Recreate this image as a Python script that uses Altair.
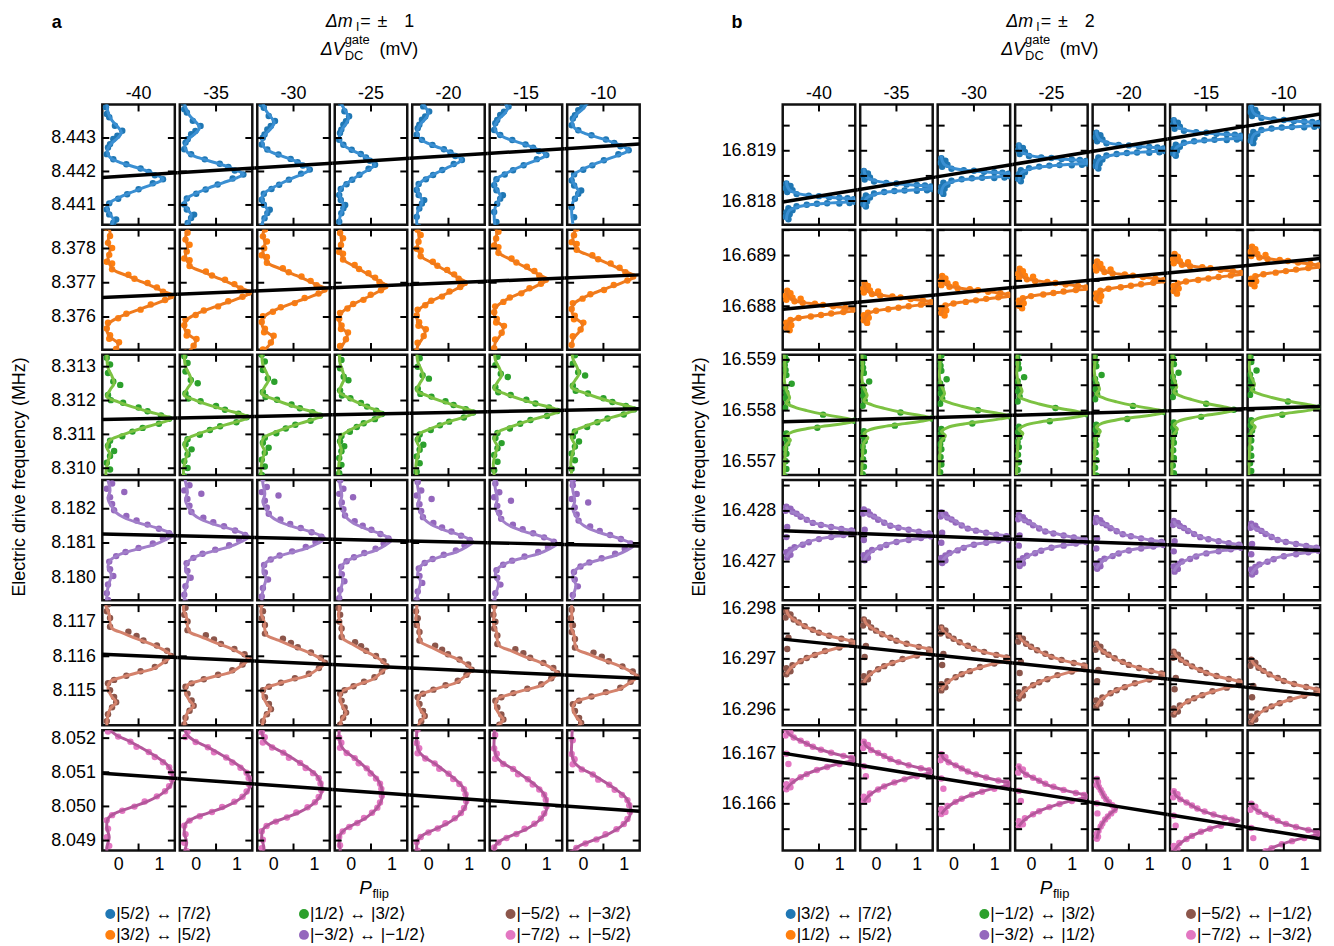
import altair as alt
import pandas as pd

# ---------------- layout constants ----------------
W, H, GAP, SPACER = 73, 121, 5, 134
ROW_W = 7 * W + 6 * GAP
XDOM = [-0.39, 1.39]
BASE = -0.28
FONT = "Liberation Sans"
VOLTS = ["-40", "-35", "-30", "-25", "-20", "-15", "-10"]

POINT_COLORS = ["#1f77b4", "#ff7f0e", "#2ca02c", "#9467bd", "#8c564b", "#e377c2"]
CURVE_COLORS = ["#3a8fd2", "#ef7a1c", "#7cc242", "#a17ec9", "#d4826c", "#b4579b"]

# ---------------- panel a data ----------------
A_YDOM = [(8.44041, 8.44400), (8.37504, 8.37855), (8.30980, 8.31335),
          (8.17933, 8.18284), (8.11399, 8.11749), (8.04871, 8.05223)]
A_LABELS = [[8.441, 8.442, 8.443], [8.376, 8.377, 8.378], [8.310, 8.311, 8.312, 8.313],
            [8.180, 8.181, 8.182], [8.115, 8.116, 8.117], [8.049, 8.050, 8.051, 8.052]]
A_TICKS = A_LABELS
# black Stark-shift line: frequency at left and right end of each row
A_LINE = [(8.44182, 8.44282), (8.37657, 8.37723), (8.31144, 8.31176),
          (8.18126, 8.18091), (8.11606, 8.11536), (8.05097, 8.04986)]
# peak offset from the line (kHz) and peak P_flip per cell
A_SHIFT = [[-0.12] * 7, [0.0] * 7, [0.0] * 7, [0.0] * 7, [0.0] * 7, [0.0] * 7]
A_AMP = [[1.10, 1.17, 0.90, 0.60, 0.83, 1.00, 1.12],
         [1.34, 1.34, 1.30, 0.88, 0.93, 1.02, 1.27],
         [1.30, 1.30, 1.20, 0.80, 1.15, 1.32, 1.30],
         [1.34, 1.30, 1.27, 1.00, 1.10, 1.27, 1.25],
         [1.30, 1.30, 1.27, 0.88, 1.07, 1.27, 1.32],
         [1.34, 1.34, 1.20, 0.78, 0.95, 1.02, 1.17]]
# fit curve profiles (offset kHz from peak, P_flip)
A_CURVE = [
    [(2.3, -0.28), (2.0, -0.25), (1.75, -0.15), (1.55, 0.0), (1.4, 0.08), (1.25, 0.0), (1.05, -0.18),
     (0.85, -0.27), (0.65, -0.2), (0.5, 0.05), (0.35, 0.45), (0.2, 0.8), (0.08, 1.02), (0.0, 1.1),
     (-0.1, 0.95), (-0.25, 0.62), (-0.4, 0.3), (-0.55, 0.02), (-0.7, -0.2), (-0.85, -0.28),
     (-1.05, -0.2), (-1.2, -0.12), (-1.35, -0.15), (-1.55, -0.25), (-1.8, -0.28), (-2.2, -0.25)],
    [(2.1, -0.28), (1.85, -0.2), (1.6, -0.25), (1.35, -0.2), (1.1, -0.25), (0.9, -0.2), (0.75, -0.1),
     (0.6, 0.2), (0.45, 0.5), (0.3, 0.8), (0.15, 1.08), (0.0, 1.34), (-0.18, 1.02), (-0.35, 0.62),
     (-0.5, 0.27), (-0.65, -0.03), (-0.8, -0.22), (-1.0, -0.28), (-1.2, -0.2), (-1.4, 0.0),
     (-1.6, -0.08), (-1.85, -0.25), (-2.1, -0.28)],
    [(1.9, -0.28), (1.5, -0.25), (1.25, -0.15), (1.05, -0.1), (0.85, -0.2), (0.65, -0.28), (0.5, 0.0),
     (0.35, 0.35), (0.2, 0.78), (0.08, 1.15), (0.0, 1.3), (-0.1, 1.1), (-0.22, 0.75), (-0.35, 0.4),
     (-0.5, 0.05), (-0.65, -0.22), (-0.85, -0.28), (-1.05, -0.2), (-1.25, -0.25), (-1.55, -0.3),
     (-1.9, -0.28)],
    [(1.9, -0.28), (1.6, -0.25), (1.3, -0.2), (1.05, -0.25), (0.85, -0.17), (0.65, -0.05), (0.5, 0.15),
     (0.35, 0.5), (0.2, 0.95), (0.0, 1.34), (-0.15, 1.15), (-0.3, 0.85), (-0.43, 0.42), (-0.58, 0.02),
     (-0.75, -0.2), (-0.95, -0.25), (-1.16, -0.17), (-1.4, -0.22), (-1.65, -0.27), (-2.0, -0.28)],
    [(2.1, -0.28), (1.7, -0.28), (1.45, -0.3), (1.2, -0.22), (0.95, -0.2), (0.8, -0.15), (0.65, 0.15),
     (0.5, 0.45), (0.35, 0.8), (0.15, 1.15), (0.0, 1.3), (-0.2, 1.1), (-0.38, 0.85), (-0.5, 0.45),
     (-0.62, 0.1), (-0.75, -0.2), (-0.95, -0.25), (-1.2, -0.15), (-1.35, -0.05), (-1.55, -0.2),
     (-1.85, -0.27), (-2.1, -0.28)],
    [(2.4, -0.26), (1.9, -0.28), (1.6, -0.28), (1.35, -0.2), (1.2, -0.05), (1.0, 0.3), (0.8, 0.6),
     (0.55, 0.95), (0.3, 1.22), (0.0, 1.34), (-0.25, 1.3), (-0.5, 1.1), (-0.75, 0.72), (-0.93, 0.3),
     (-1.08, -0.05), (-1.25, -0.25), (-1.5, -0.28), (-1.8, -0.22), (-2.1, -0.28), (-2.4, -0.25)],
]
A_PTS = [
    [(2.15, -0.3), (1.95, -0.28), (1.85, -0.22), (1.6, -0.08), (1.45, 0.1), (1.3, -0.02), (1.2, -0.12),
     (1.05, -0.2), (0.95, -0.25), (0.75, -0.28), (0.6, -0.12), (0.45, 0.2), (0.32, 0.55), (0.22, 0.75),
     (0.12, 0.9), (0.0, 1.1), (-0.12, 0.85), (-0.3, 0.5), (-0.45, 0.22), (-0.58, 0.0), (-0.72, -0.22),
     (-0.9, -0.28), (-1.05, -0.22), (-1.2, -0.05), (-1.3, -0.12), (-1.45, -0.2), (-1.7, -0.28),
     (-2.0, -0.22)],
    [(2.0, -0.3), (1.75, -0.2), (1.55, -0.25), (1.4, -0.15), (1.2, -0.22), (1.0, -0.28), (0.95, -0.15),
     (0.78, -0.15), (0.62, 0.25), (0.5, 0.4), (0.38, 0.72), (0.25, 0.95), (0.12, 1.1), (0.0, 1.3),
     (-0.12, 1.15), (-0.25, 0.8), (-0.4, 0.55), (-0.52, 0.2), (-0.65, 0.0), (-0.78, -0.25),
     (-0.95, -0.28), (-1.15, -0.2), (-1.25, -0.22), (-1.35, 0.02), (-1.55, -0.05), (-1.75, -0.25),
     (-2.0, -0.28)],
    [(1.8, -0.28), (1.6, -0.2), (1.35, -0.25), (1.1, -0.12), (1.0, 0.05), (0.7, -0.25), (0.55, -0.18),
     (0.47, 0.12), (0.33, 0.5), (0.22, 0.72), (0.1, 1.05), (0.0, 1.25), (-0.15, 1.0), (-0.27, 0.6),
     (-0.38, 0.35), (-0.52, 0.1), (-0.65, -0.2), (-0.8, -0.25), (-0.95, -0.1), (-1.1, -0.2),
     (-1.3, -0.28), (-1.5, -0.2), (-1.75, -0.28)],
    [(1.9, -0.25), (1.75, -0.25), (1.5, -0.15), (1.35, -0.28), (1.25, 0.15), (1.1, -0.2), (0.9, -0.15),
     (0.72, -0.1), (0.55, 0.2), (0.42, 0.45), (0.3, 0.72), (0.18, 1.0), (0.05, 1.25), (-0.1, 1.1),
     (-0.25, 0.85), (-0.38, 0.5), (-0.5, 0.18), (-0.62, -0.05), (-0.78, -0.22), (-1.0, -0.2),
     (-1.2, -0.12), (-1.45, -0.25), (-1.7, -0.28), (-1.9, -0.25)],
    [(1.95, -0.28), (1.7, -0.3), (1.5, -0.25), (1.3, -0.28), (1.1, -0.2), (0.85, -0.2), (0.7, 0.25),
     (0.58, 0.45), (0.45, 0.62), (0.3, 0.95), (0.15, 1.2), (0.0, 1.3), (-0.15, 1.15), (-0.32, 0.9),
     (-0.45, 0.55), (-0.58, 0.2), (-0.7, -0.1), (-0.8, -0.25), (-1.0, -0.2), (-1.2, -0.1),
     (-1.35, -0.05), (-1.5, -0.15), (-1.7, -0.25), (-1.9, -0.28)],
    [(2.0, -0.25), (1.6, -0.28), (1.45, -0.2), (1.3, -0.25), (1.15, 0.0), (1.0, 0.3), (0.85, 0.45),
     (0.7, 0.75), (0.55, 0.9), (0.4, 1.1), (0.25, 1.25), (0.1, 1.3), (-0.1, 1.32), (-0.3, 1.25),
     (-0.45, 1.15), (-0.6, 0.95), (-0.75, 0.65), (-0.9, 0.4), (-1.02, 0.1), (-1.15, -0.15),
     (-1.3, -0.28), (-1.55, -0.25), (-1.8, -0.28), (-2.05, -0.22), (-2.3, -0.28)],
]

# ---------------- panel b data ----------------
B_YDOM = [(16.81753, 16.81992), (16.68714, 16.68951), (16.55673, 16.55910),
          (16.42624, 16.42861), (16.29569, 16.29806), (16.16508, 16.16745)]
B_LABELS = [[16.818, 16.819], [16.688, 16.689], [16.557, 16.558, 16.559],
            [16.427, 16.428], [16.296, 16.297, 16.298], [16.166, 16.167]]
B_TICKS = [[16.818, 16.8185, 16.819, 16.8195],
           [16.6875, 16.688, 16.6885, 16.689, 16.6895],
           [16.557, 16.5575, 16.558, 16.5585, 16.559],
           [16.4265, 16.427, 16.4275, 16.428, 16.4285],
           [16.296, 16.2965, 16.297, 16.2975, 16.298],
           [16.1655, 16.166, 16.1665, 16.167]]
B_LINE = [(16.81798, 16.81973), (16.68794, 16.68894), (16.55778, 16.55808),
          (16.42761, 16.42722), (16.29739, 16.29629), (16.16700, 16.16531)]
B_SHIFT = [[-0.08] * 7, [-0.08] * 7, [0.0] * 7, [0.0] * 7, [0.0] * 7, [0.0] * 7]
B_AMP = [[1.8] * 7, [1.45] * 7, [1.4, 1.4, 1.4, 1.4, 1.4, 1.2, 1.4],
         [1.55] * 7, [1.5] * 7, [1.5, 1.5, 1.5, 1.5, 0.2, 1.3, 1.5]]
B_CURVE = [
    [(0.38, -0.3), (0.28, -0.28), (0.2, -0.22), (0.14, -0.05), (0.1, 0.2), (0.07, 0.55), (0.05, 0.9),
     (0.03, 1.3), (0.0, 1.8), (-0.03, 1.3), (-0.05, 0.9), (-0.07, 0.55), (-0.1, 0.2), (-0.14, -0.05),
     (-0.2, -0.22), (-0.28, -0.28), (-0.4, -0.3)],
    [(0.4, -0.3), (0.3, -0.27), (0.22, -0.2), (0.17, -0.05), (0.13, 0.25), (0.09, 0.65), (0.05, 1.05),
     (0.0, 1.45), (-0.05, 1.05), (-0.09, 0.65), (-0.13, 0.25), (-0.17, -0.05), (-0.22, -0.2),
     (-0.3, -0.27), (-0.4, -0.3)],
    [(1.35, -0.36), (1.0, -0.33), (0.8, -0.35), (0.6, -0.3), (0.45, -0.22), (0.35, -0.3), (0.27, -0.1),
     (0.2, 0.2), (0.12, 0.65), (0.05, 1.15), (0.0, 1.4), (-0.05, 1.15), (-0.1, 0.7), (-0.15, 0.25),
     (-0.22, -0.15), (-0.3, -0.3), (-0.38, -0.2), (-0.48, -0.3), (-0.7, -0.33), (-1.0, -0.35),
     (-1.35, -0.36)],
    [(0.5, -0.3), (0.42, -0.25), (0.38, -0.1), (0.3, 0.1), (0.2, 0.3), (0.12, 0.7), (0.07, 1.0),
     (0.03, 1.35), (0.0, 1.55), (-0.04, 1.3), (-0.08, 0.95), (-0.12, 0.6), (-0.2, 0.2), (-0.3, -0.05),
     (-0.4, -0.22), (-0.5, -0.3)],
    [(0.65, -0.3), (0.55, -0.25), (0.45, -0.1), (0.35, 0.1), (0.25, 0.35), (0.15, 0.7), (0.08, 1.05),
     (0.03, 1.35), (0.0, 1.5), (-0.04, 1.3), (-0.1, 0.95), (-0.18, 0.6), (-0.28, 0.25), (-0.38, 0.0),
     (-0.5, -0.2), (-0.62, -0.3)],
    [(0.6, -0.3), (0.5, -0.25), (0.42, -0.1), (0.32, 0.15), (0.22, 0.4), (0.13, 0.75), (0.06, 1.1),
     (0.02, 1.35), (0.0, 1.5), (-0.04, 1.3), (-0.1, 0.95), (-0.18, 0.6), (-0.28, 0.25), (-0.38, 0.0),
     (-0.5, -0.2), (-0.6, -0.3)],
]
B_PTS = [
    [(0.33, -0.3), (0.28, -0.2), (0.24, -0.32), (0.2, -0.15), (0.16, -0.28), (0.12, -0.05), (0.09, 0.25),
     (0.08, 0.5), (0.06, 0.75), (0.05, 1.0), (0.04, 1.2), (0.02, 1.35), (-0.03, 1.38), (-0.055, 1.25),
     (-0.065, 1.0), (-0.06, 0.7), (-0.07, 0.45), (-0.09, 0.2), (-0.12, -0.05), (-0.16, -0.25),
     (-0.2, -0.15), (-0.24, -0.3), (-0.28, -0.22), (-0.33, -0.32), (-0.38, -0.25)],
    [(0.38, -0.28), (0.33, -0.2), (0.28, -0.32), (0.24, -0.15), (0.2, -0.3), (0.17, -0.1), (0.14, 0.1),
     (0.12, 0.4), (0.1, 0.6), (0.07, 0.85), (0.04, 1.15), (0.01, 1.35), (-0.04, 1.1), (-0.07, 0.8),
     (-0.1, 0.55), (-0.13, 0.3), (-0.16, 0.0), (-0.2, -0.2), (-0.25, -0.3), (-0.3, -0.18),
     (-0.35, -0.3), (-0.4, -0.22), (0.22, 0.05)],
    [(1.3, -0.33), (1.2, -0.3), (1.1, -0.34), (1.0, -0.32), (0.9, -0.3), (0.73, -0.17), (0.65, -0.33),
     (0.55, -0.3), (0.45, -0.32), (0.35, -0.28), (0.25, -0.33), (0.12, 0.6), (0.0, 1.37), (-0.14, 0.46),
     (-0.25, -0.3), (-0.35, -0.32), (-0.45, -0.28), (-0.55, -0.33), (-0.65, -0.3), (-0.8, -0.32),
     (-0.95, -0.3), (-1.1, -0.33), (-1.25, -0.3)],
    [(0.5, -0.3), (0.46, -0.2), (0.42, -0.32), (0.4, -0.15), (0.36, -0.05), (0.3, 0.05), (0.24, 0.2),
     (0.18, 0.35), (0.14, 0.55), (0.1, 0.8), (0.06, 1.05), (0.03, 1.3), (-0.03, 1.35), (-0.06, 1.1),
     (-0.1, 0.8), (-0.14, 0.5), (-0.2, 0.25), (-0.25, 0.1), (-0.3, -0.1), (-0.35, -0.2), (-0.4, -0.3),
     (-0.45, -0.2), (-0.5, -0.28), (0.1, -0.28), (-0.1, -0.3)],
    [(0.62, -0.3), (0.56, -0.2), (0.5, -0.32), (0.46, -0.12), (0.4, 0.0), (0.33, 0.15), (0.26, 0.35),
     (0.2, 0.5), (0.14, 0.75), (0.08, 1.05), (0.03, 1.3), (-0.04, 1.3), (-0.09, 1.0), (-0.16, 0.65),
     (-0.24, 0.4), (-0.3, 0.2), (-0.36, 0.05), (-0.44, -0.15), (-0.5, -0.3), (-0.56, -0.2),
     (-0.62, -0.3), (0.1, -0.25), (-0.12, -0.28)],
    [(0.58, -0.3), (0.52, -0.2), (0.46, -0.32), (0.42, -0.12), (0.36, 0.05), (0.3, 0.2), (0.24, 0.35),
     (0.18, 0.55), (0.12, 0.8), (0.06, 1.1), (0.02, 1.3), (-0.04, 1.3), (-0.1, 1.0), (-0.16, 0.7),
     (-0.22, 0.45), (-0.3, 0.2), (-0.36, 0.05), (-0.44, -0.15), (-0.5, -0.3), (-0.56, -0.2),
     (-0.6, -0.3), (0.1, -0.3), (-0.1, -0.25)],
]

A_LEGEND = ["|5/2\u27e9 \u2194 |7/2\u27e9", "|3/2\u27e9 \u2194 |5/2\u27e9",
            "|1/2\u27e9 \u2194 |3/2\u27e9", "|\u22123/2\u27e9 \u2194 |\u22121/2\u27e9",
            "|\u22125/2\u27e9 \u2194 |\u22123/2\u27e9", "|\u22127/2\u27e9 \u2194 |\u22125/2\u27e9"]
B_LEGEND = ["|3/2\u27e9 \u2194 |7/2\u27e9", "|1/2\u27e9 \u2194 |5/2\u27e9",
            "|\u22121/2\u27e9 \u2194 |3/2\u27e9", "|\u22123/2\u27e9 \u2194 |1/2\u27e9",
            "|\u22125/2\u27e9 \u2194 |\u22121/2\u27e9", "|\u22127/2\u27e9 \u2194 |\u22123/2\u27e9"]

PANELS = {
    "a": dict(ydom=A_YDOM, labels=A_LABELS, ticks=A_TICKS, line=A_LINE, shift=A_SHIFT, amp=A_AMP,
              curve=A_CURVE, pts=A_PTS, legend=A_LEGEND, letter="a", dm="1"),
    "b": dict(ydom=B_YDOM, labels=B_LABELS, ticks=B_TICKS, line=B_LINE, shift=B_SHIFT, amp=B_AMP,
              curve=B_CURVE, pts=B_PTS, legend=B_LEGEND, letter="b", dm="2"),
}


def txt(s, x, y, size=18, style=None, weight=None, align="center", angle=None, font=FONT):
    kw = dict(fontSize=size, font=font, align=align, baseline="middle", color="black")
    if style:
        kw["fontStyle"] = style
    if weight:
        kw["fontWeight"] = weight
    if angle is not None:
        kw["angle"] = angle
    return alt.Chart(pd.DataFrame({"t": [s]})).mark_text(**kw).encode(
        x=alt.value(x), y=alt.value(y), text="t:N")


def annotations(p):
    out = [
        txt(p["letter"], -46, -82, size=18, weight="bold"),
        txt("\u0394m", 252, -83, size=18, style="italic", align="right"),
        txt("I", 257, -78, size=12),
        txt("=", 265, -83, size=18),
        txt("\u00b1", 282, -83, size=18),
        txt(p["dm"], 309, -83, size=18),
        txt("\u0394V", 244, -55, size=18, style="italic", align="right"),
        txt("gate", 244, -65, size=13, align="left"),
        txt("DC", 244, -49, size=13, align="left"),
        txt("(mV)", 279, -55, size=18, align="left"),
        txt("Electric drive frequency (MHz)", -83, 375, size=18, angle=270),
        txt("P", 265, 789, size=19, style="italic"),
        txt("flip", 272, 795, size=13, align="left"),
    ]
    xs = [8, 203, 411]
    ys = [815, 836]
    for i, lab in enumerate(p["legend"]):
        xm, ym = xs[i // 2], ys[i % 2]
        out.append(alt.Chart(pd.DataFrame({"t": [lab]})).mark_circle(
            size=100, opacity=1, color=POINT_COLORS[i]).encode(x=alt.value(xm), y=alt.value(ym)))
        out.append(txt(lab, xm + 6, ym, size=17, align="left"))
    return out


def build_cell(key, r, c):
    p = PANELS[key]
    ydom = list(p["ydom"][r])
    fl, fr = p["line"][r]
    u0 = c * (W + GAP)

    def f_at(u):
        return fl + (fr - fl) * u / ROW_W

    center = f_at(u0 + W / 2) + p["shift"][r][c] * 1e-3
    prof = p["curve"][r]
    pmax = max(v for _, v in prof)
    amp = p["amp"][r][c]
    sc = (amp - BASE) / (pmax - BASE)

    curve_df = pd.DataFrame({
        "i": list(range(len(prof))),
        "f": [center + k * 1e-3 for k, _ in prof],
        "P": [BASE + (v - BASE) * sc for _, v in prof],
    })
    pts = p["pts"][r]
    pts_df = pd.DataFrame({
        "f": [center + k * 1e-3 for k, _ in pts],
        "P": [BASE + (v - BASE) * sc for _, v in pts],
    })
    ext_p = (GAP / 2) / W * (XDOM[1] - XDOM[0])
    pa = XDOM[0] - (ext_p if c > 0 else 0)
    ua = u0 - (GAP / 2 if c > 0 else 0)
    pb = XDOM[1] + (ext_p if c < 6 else 0)
    ub = u0 + W + (GAP / 2 if c < 6 else 0)
    line_df = pd.DataFrame({"P": [pa, pb], "f": [f_at(ua), f_at(ub)]})

    xs = alt.Scale(domain=XDOM, nice=False, zero=False)
    ys = alt.Scale(domain=ydom, nice=False, zero=False)
    if r == 5:
        xaxis = alt.Axis(values=[0, 1], format="d", ticks=False, domain=False, grid=False,
                         labelPadding=5, labelFontSize=18, labelFont=FONT, labelColor="black",
                         labelAngle=0, title=None)
    else:
        xaxis = None
    if c == 0:
        yaxis = alt.Axis(values=p["labels"][r], format=".3f", ticks=False, domain=False, grid=False,
                         labelPadding=7, labelFontSize=18, labelFont=FONT, labelColor="black",
                         title=None)
    else:
        yaxis = None
    X = alt.X("P:Q", scale=xs, axis=xaxis)
    Y = alt.Y("f:Q", scale=ys, axis=yaxis)

    layers = [
        alt.Chart(pts_df).mark_circle(size=42, opacity=1, color=POINT_COLORS[r], clip=True)
        .encode(x=X, y=Y),
        alt.Chart(curve_df).mark_line(color=CURVE_COLORS[r], strokeWidth=3,
                                      interpolate="catmull-rom", clip=True)
        .encode(x=X, y=Y, order="i:Q"),
        alt.Chart(line_df).mark_line(color="black", strokeWidth=3.5).encode(x=X, y=Y),
    ]
    tdf = pd.DataFrame({"tv": p["ticks"][r]})
    TY = alt.Y("tv:Q", scale=ys, axis=yaxis)
    layers.append(alt.Chart(tdf).mark_rule(color="black", strokeWidth=2)
                  .encode(y=TY, x=alt.value(0), x2=alt.value(7)))
    layers.append(alt.Chart(tdf).mark_rule(color="black", strokeWidth=2)
                  .encode(y=TY, x=alt.value(W - 7), x2=alt.value(W)))
    xdf = pd.DataFrame({"xt": [0.5]})
    TX = alt.X("xt:Q", scale=xs, axis=xaxis)
    layers.append(alt.Chart(xdf).mark_rule(color="black", strokeWidth=2)
                  .encode(x=TX, y=alt.value(0), y2=alt.value(7)))
    layers.append(alt.Chart(xdf).mark_rule(color="black", strokeWidth=2)
                  .encode(x=TX, y=alt.value(H - 7), y2=alt.value(H)))
    if r == 0:
        layers.append(txt(VOLTS[c], W / 2, -11, size=18))
    if r == 0 and c == 0:
        layers.extend(annotations(p))
    return alt.layer(*layers).properties(width=W, height=H)


def spacer():
    return alt.Chart(pd.DataFrame({"a": [0]})).mark_point(opacity=0).encode(
        x=alt.value(0), y=alt.value(0)).properties(
        width=SPACER, height=H, view=alt.ViewBackground(stroke="transparent"))


cells = []
for r in range(6):
    for c in range(7):
        cells.append(build_cell("a", r, c))
    cells.append(spacer())
    for c in range(7):
        cells.append(build_cell("b", r, c))

chart = alt.concat(*cells, columns=15, spacing=GAP, bounds="flush", align="each").properties(
    padding={"left": 9, "top": 8, "right": 5, "bottom": 5}
).configure(font=FONT).configure_view(stroke="#111111", strokeWidth=2.5)

chart.save("out.html", embed_options={"renderer": "svg", "actions": False})
